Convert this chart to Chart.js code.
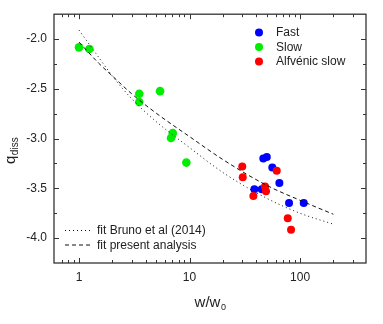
<!DOCTYPE html>
<html>
<head>
<meta charset="utf-8">
<script src="https://cdn.jsdelivr.net/npm/chart.js@4.4.0/dist/chart.umd.min.js"></script>
<style>
  html, body { margin: 0; padding: 0; background: #fff; }
</style>
</head>
<body>
<canvas id="myChart" width="383" height="324"></canvas>
<script>
"use strict";

// measured points (w/w0, q_diss)
var fastX = [46.5, 50.0, 56.1, 65.0, 38.6, 45.0, 79.5, 108];
var fastY = [-3.20, -3.185, -3.29, -3.445, -3.51, -3.51, -3.646, -3.646];

var slowX = [1.0, 1.24, 3.51, 3.51, 5.41, 7.05, 6.80, 9.36];
var slowY = [-2.083, -2.099, -2.55, -2.632, -2.523, -2.945, -2.994, -3.241];

var alfX = [30.0, 30.3, 61.5, 48.2, 49.2, 37.8, 77.4, 82.9];
var alfY = [-3.28, -3.389, -3.323, -3.481, -3.53, -3.577, -3.80, -3.915];

// fit curves
var fitX = [1, 1.5, 2, 3, 5, 10, 20, 50, 100, 200];
var brunoY = [-1.91, -2.18, -2.37, -2.60, -2.83, -3.09, -3.34, -3.60, -3.75, -3.86];
var presentY = [-2.03, -2.24, -2.37, -2.55, -2.745, -2.98, -3.21, -3.47, -3.62, -3.76];

var xTicks = [1, 10, 100];
var yTicks = [-4.0, -3.5, -3.0, -2.5, -2.0];

var FONT = "'Liberation Sans', Arial, sans-serif";

function pts(xs, ys) {
  return xs.map(function(x, i) { return {x: x, y: ys[i]}; });
}

/* frame with inward ticks on all four sides */
var framePlugin = {
  id: 'frame',
  afterDraw: function(chart) {
    var c = chart.ctx, a = chart.chartArea;
    var xs = chart.scales.x, ys = chart.scales.y;
    c.save();
    c.strokeStyle = '#333';
    c.lineWidth = 1.3;
    c.strokeRect(a.left, a.top, a.right - a.left, a.bottom - a.top);
    c.lineWidth = 1;
    c.beginPath();
    function xt(v, len) {
      var p = Math.round(xs.getPixelForValue(v)) + 0.5;
      if (p < a.left + 1 || p > a.right - 1) return;
      c.moveTo(p, a.bottom); c.lineTo(p, a.bottom - len);
      c.moveTo(p, a.top); c.lineTo(p, a.top + len);
    }
    function yt(v, len) {
      var p = Math.round(ys.getPixelForValue(v)) + 0.5;
      c.moveTo(a.left, p); c.lineTo(a.left + len, p);
      c.moveTo(a.right, p); c.lineTo(a.right - len, p);
    }
    for (var k = -1; k <= 2; k++) {
      for (var m = 2; m <= 9; m++) xt(m * Math.pow(10, k), 3);
    }
    xTicks.forEach(function(v) { xt(v, 5); });
    yTicks.forEach(function(v, i) {
      yt(v, 5);
      if (i > 0) yt((v + yTicks[i - 1]) / 2, 3);
    });
    c.stroke();

    // axis titles with subscripts
    c.fillStyle = '#222';
    c.textBaseline = 'alphabetic';
    c.textAlign = 'left';
    c.font = '15px ' + FONT;
    var w1 = c.measureText('w/w').width;
    c.font = '9px ' + FONT;
    var w2 = c.measureText('0').width;
    var cx = (a.left + a.right) / 2 - (w1 + w2) / 2;
    c.font = '15px ' + FONT;
    c.fillText('w/w', cx, 307);
    c.font = '9px ' + FONT;
    c.fillText('0', cx + w1 + 0.5, 310);

    c.save();
    c.translate(15, 164);
    c.rotate(-Math.PI / 2);
    c.font = '15px ' + FONT;
    c.fillText('q', 0, 0);
    var wq = c.measureText('q').width;
    c.font = '10px ' + FONT;
    c.fillText('diss', wq + 0.5, 2.5);
    c.restore();

    // legends
    c.font = '12px ' + FONT;
    c.textBaseline = 'middle';
    var ly = [32.5, 47, 61.5];
    var n = 0;
    chart.data.datasets.forEach(function(ds) {
      if (ds.showLine) return;
      c.fillStyle = ds.backgroundColor;
      c.beginPath();
      c.arc(259, ly[n], 4, 0, Math.PI * 2);
      c.fill();
      c.fillStyle = '#222';
      c.fillText(ds.label, 276, ly[n] + 0.5);
      n++;
    });
    var fy = [230.5, 245];
    n = 0;
    chart.data.datasets.forEach(function(ds) {
      if (!ds.showLine) return;
      c.strokeStyle = ds.borderColor;
      c.lineWidth = 1;
      c.setLineDash(ds.borderDash);
      c.beginPath();
      c.moveTo(65, fy[n]);
      c.lineTo(92, fy[n]);
      c.stroke();
      c.setLineDash([]);
      c.fillStyle = '#222';
      c.fillText(ds.label, 97, fy[n] + 0.5);
      n++;
    });
    c.restore();
  }
};

var ctx = document.getElementById("myChart");
new Chart(ctx, {
  type: 'scatter',
  data: {
    datasets: [
      {
        label: 'Fast',
        data: pts(fastX, fastY),
        backgroundColor: '#0000ff',
        borderWidth: 0,
        pointRadius: 4,
        order: 2
      },
      {
        label: 'Slow',
        data: pts(slowX, slowY),
        backgroundColor: '#00ee00',
        borderWidth: 0,
        pointRadius: 4.3,
        order: 2
      },
      {
        label: 'Alfvénic slow',
        data: pts(alfX, alfY),
        backgroundColor: '#ff0000',
        borderWidth: 0,
        pointRadius: 4,
        order: 1
      },
      {
        label: 'fit Bruno et al (2014)',
        data: pts(fitX, brunoY),
        showLine: true,
        borderColor: '#111',
        borderWidth: 1,
        borderDash: [1, 3],
        pointRadius: 0,
        cubicInterpolationMode: 'monotone',
        order: 0
      },
      {
        label: 'fit present analysis',
        data: pts(fitX, presentY),
        showLine: true,
        borderColor: '#111',
        borderWidth: 1,
        borderDash: [4, 3],
        pointRadius: 0,
        cubicInterpolationMode: 'monotone',
        order: 0
      }
    ]
  },
  options: {
    responsive: false,
    animation: false,
    devicePixelRatio: 1,
    layout: { padding: { left: 0, right: 17, top: 9, bottom: 0 } },
    plugins: {
      legend: { display: false },
      tooltip: { enabled: false }
    },
    scales: {
      x: {
        type: 'logarithmic',
        min: 0.594,
        max: 395,
        grid: { display: false, drawTicks: false },
        border: { display: false },
        afterBuildTicks: function(scale) {
          scale.ticks = xTicks.map(function(v) { return {value: v}; });
        },
        afterFit: function(scale) { scale.height = 61; },
        ticks: {
          autoSkip: false,
          maxRotation: 0,
          padding: 7,
          color: '#222',
          font: { family: FONT, size: 12 },
          callback: function(v) { return String(v); }
        }
      },
      y: {
        min: -4.25,
        max: -1.75,
        grid: { display: false, drawTicks: false },
        border: { display: false },
        afterBuildTicks: function(scale) {
          scale.ticks = yTicks.map(function(v) { return {value: v}; });
        },
        afterFit: function(scale) { scale.width = 54; },
        ticks: {
          autoSkip: false,
          padding: 7,
          color: '#222',
          font: { family: FONT, size: 12 },
          callback: function(v) { return v.toFixed(1); }
        }
      }
    }
  },
  plugins: [framePlugin]
});
</script>
</body>
</html>
